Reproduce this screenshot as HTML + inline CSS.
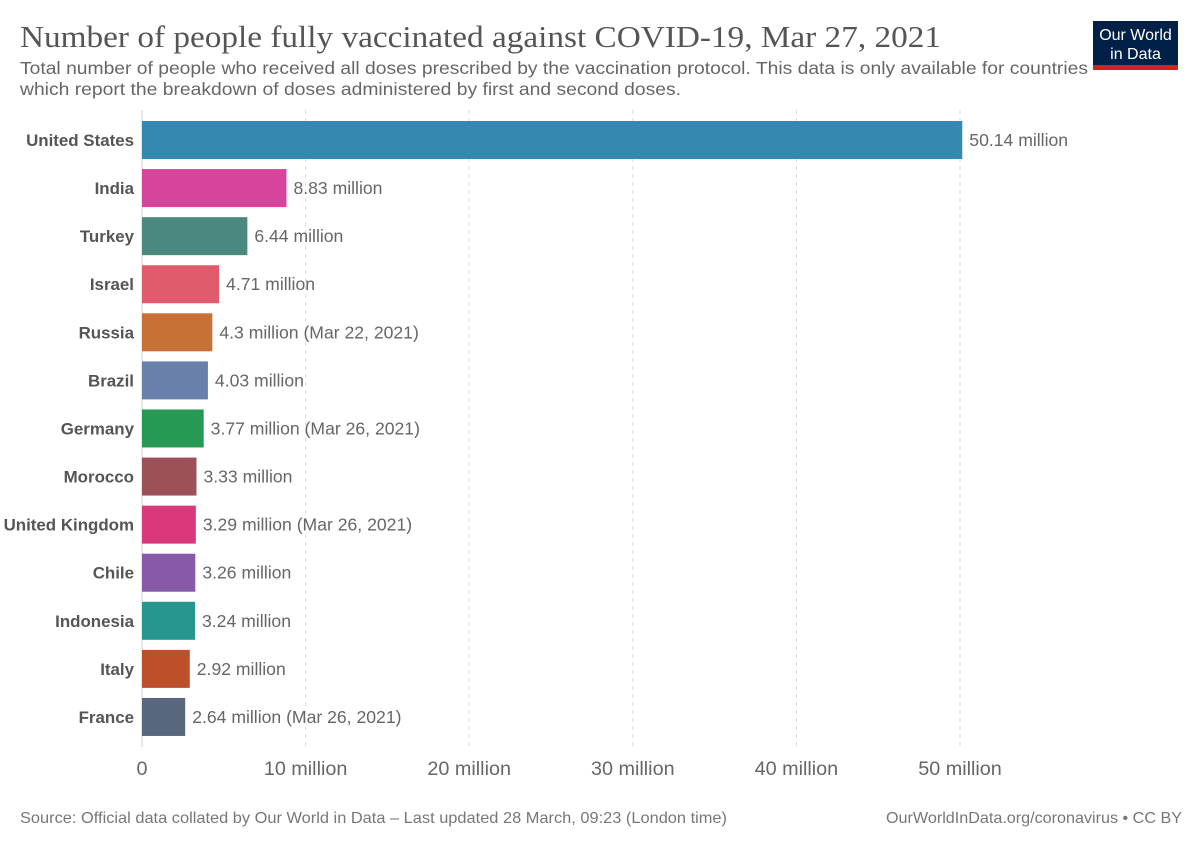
<!DOCTYPE html>
<html><head><meta charset="utf-8"><style>
body{margin:0;background:#fff;width:1200px;height:847px;overflow:hidden;font-family:"Liberation Sans",sans-serif;}
svg text{font-family:"Liberation Sans",sans-serif;}
</style></head><body>
<svg id="chart" width="1200" height="847" xmlns="http://www.w3.org/2000/svg">
<text x="20" y="47" style="font-family:'Liberation Serif',serif" font-size="31" fill="#555" textLength="921" lengthAdjust="spacingAndGlyphs">Number of people fully vaccinated against COVID-19, Mar 27, 2021</text>
<text x="20" y="74" font-size="17.5" fill="#666" textLength="1068" lengthAdjust="spacingAndGlyphs">Total number of people who received all doses prescribed by the vaccination protocol. This data is only available for countries</text>
<text x="20" y="95" font-size="17.5" fill="#666" textLength="661" lengthAdjust="spacingAndGlyphs">which report the breakdown of doses administered by first and second doses.</text>
<g>
<rect x="1093" y="21" width="85" height="49" fill="#002147"/>
<rect x="1093" y="65" width="85" height="5" fill="#ce261e"/>
<text x="1135.5" y="40" font-size="16" fill="#fff" text-anchor="middle">Our World</text>
<text x="1135.5" y="59" font-size="16" fill="#fff" text-anchor="middle">in Data</text>
</g>
<g id="grid"></g><g id="bars"></g>
<text x="20" y="823" font-size="16" fill="#777" textLength="707" lengthAdjust="spacingAndGlyphs">Source: Official data collated by Our World in Data – Last updated 28 March, 09:23 (London time)</text>
<text x="886" y="823" font-size="16" fill="#777" textLength="296" lengthAdjust="spacingAndGlyphs">OurWorldInData.org/coronavirus • CC BY</text>
</svg>
<script>
const countries=["United States","India","Turkey","Israel","Russia","Brazil","Germany","Morocco","United Kingdom","Chile","Indonesia","Italy","France"];
const values=[50.14,8.83,6.44,4.71,4.3,4.03,3.77,3.33,3.29,3.26,3.24,2.92,2.64];
const valueLabels=["50.14 million","8.83 million","6.44 million","4.71 million","4.3 million (Mar 22, 2021)","4.03 million","3.77 million (Mar 26, 2021)","3.33 million","3.29 million (Mar 26, 2021)","3.26 million","3.24 million","2.92 million","2.64 million (Mar 26, 2021)"];
const colors=["#3489b0","#d7449c","#4b887d","#e05c6c","#c87137","#6980ab","#269a54","#9c5058","#d9387b","#865aa8","#26968f","#bd4f2b","#58677d"];
const ticks=[0,10,20,30,40,50];
const tickLabels=["0","10 million","20 million","30 million","40 million","50 million"];
const NS="http://www.w3.org/2000/svg";
const x=v=>142+v*16.36;
const y=i=>121+i*48.08;
const bh=38;
function mk(t,a,p){const e=document.createElementNS(NS,t);for(const k in a)e.setAttribute(k,a[k]);p.appendChild(e);return e;}
const g=document.getElementById('grid'),b=document.getElementById('bars');
ticks.forEach((t,i)=>{
 if(t>0){const l=mk('line',{x1:x(t),x2:x(t),y1:110,y2:747,stroke:'#ddd','stroke-dasharray':'4,4'},g);
 
 }
 const tx=mk('text',{x:x(t),y:775,'font-size':19.8,fill:'#666','text-anchor':'middle'},g);tx.textContent=tickLabels[i];
 
 
});
const ax=mk('line',{x1:142,x2:142,y1:110,y2:747,stroke:'#ccc'},g);


countries.forEach((c,i)=>{
 const r=mk('rect',{x:142,y:y(i),width:x(values[i])-142,height:bh,fill:colors[i]},b);
 
 
 const n=mk('text',{x:134,y:y(i)+bh/2+6,'font-size':16.9,'font-weight':'bold',fill:'#555','text-anchor':'end'},b);n.textContent=c;
 
 
 const v=mk('text',{x:x(values[i])+7,y:y(i)+bh/2+6,'font-size':17.6,fill:'#666'},b);v.textContent=valueLabels[i];
 
 
});
</script>
</body></html>
